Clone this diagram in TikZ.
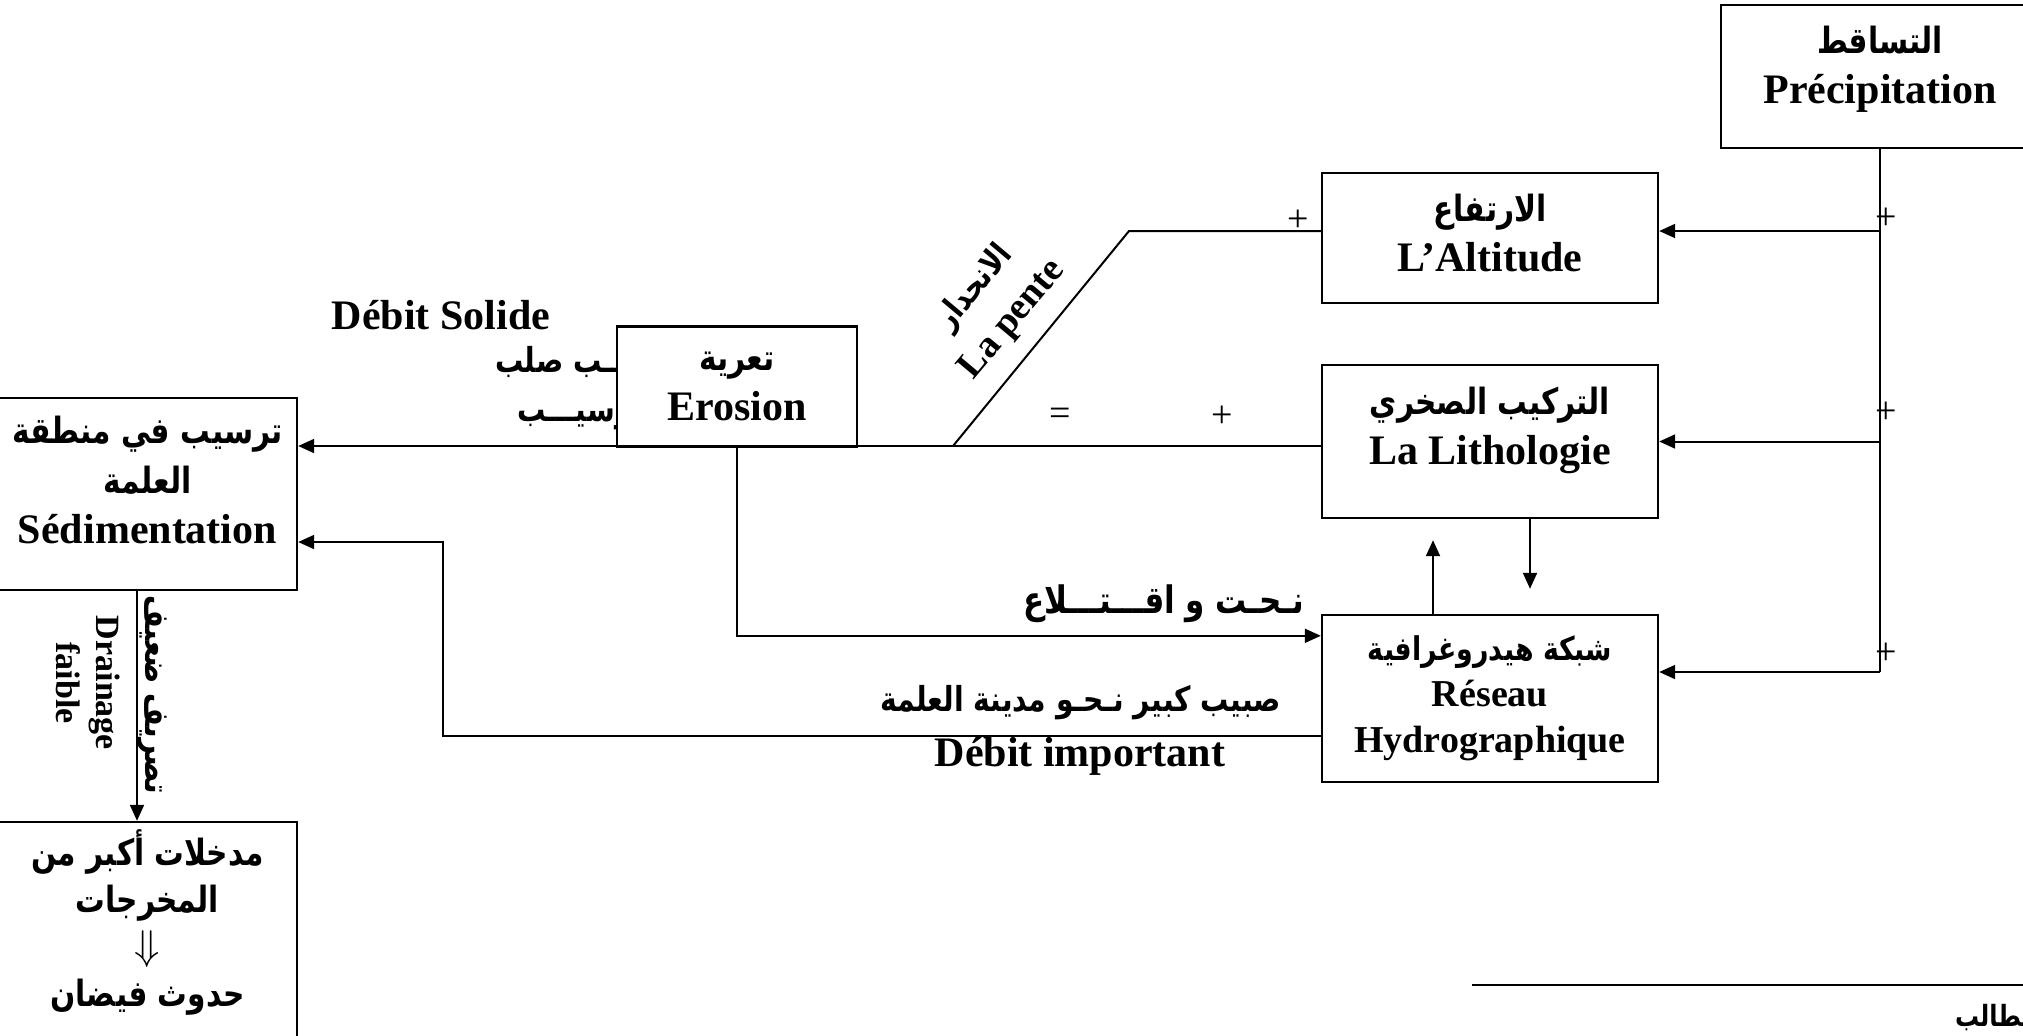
\documentclass[tikz,border=0pt]{standalone}
\usepackage{fontspec}
\setmainfont{Liberation Serif}
\newfontfamily\arfont[Script=Arabic,Scale=0.86,FakeStretch=0.82]{DejaVu Sans}
\TeXXeTstate=1
\newcommand{\artxt}[1]{{\arfont\beginR #1\endR}}
\usetikzlibrary{arrows.meta,positioning}

\begin{document}
\begin{tikzpicture}[x=0.5pt,y=-0.5pt,line width=1pt,
  box/.style={draw,fill=white,line width=1.2pt,align=center,inner sep=0pt,font=\bfseries\fontsize{21}{25}\selectfont},
  arr/.style={-{Triangle[length=8pt,width=7pt]}},
  lbl/.style={align=center,inner sep=0pt,font=\bfseries\fontsize{20}{25}\selectfont},
  sgn/.style={inner sep=0pt,font=\fontsize{19}{19}\selectfont}]
  \useasboundingbox (0,0) rectangle (2023,1035);

  % text under the erosion box
  \node[lbl,font=\bfseries\fontsize{21}{25}\selectfont] (dsol) at (441,315) {Débit Solide};
  \node[lbl,anchor=west] (sol1) at (494,362) {\artxt{صبيـــب صلب}};
  \node[lbl,anchor=west] (sol2) at (516,417) {\artxt{ترسيـــب}};

  % boxes
  \node[box,minimum width=159pt,minimum height=71.5pt,text depth=12pt] (prec) at (1880,76.5) {\artxt{التساقط}\\Précipitation};
  \node[box,minimum width=168pt,minimum height=65pt,text depth=5.5pt] (alt) at (1490,238) {\artxt{الارتفاع}\\L’Altitude};
  \node[box,minimum width=168pt,minimum height=76.5pt,text depth=16pt] (lith) at (1490,441.5) {\artxt{التركيب الصخري}\\La Lithologie};
  \node[box,minimum width=168pt,minimum height=83.5pt,font=\bfseries\fontsize{19}{23}\selectfont] (reseau) at (1490,698.5) {\artxt{شبكة هيدروغرافية}\\Réseau\\Hydrographique};
  \node[box,minimum width=120pt,minimum height=60pt] (eros) at (737,386.5) {\artxt{تعرية}\\Erosion};
  \node[box,minimum width=149.5pt,minimum height=96pt,text depth=14pt] (sed) at (147.5,494) {\artxt{ترسيب في منطقة}\\\artxt{العلمة}\\Sédimentation};
  \node[box,minimum width=149.5pt,minimum height=111.5pt,text depth=15pt,font=\bfseries\fontsize{21}{23.5}\selectfont] (out) at (147.5,933.5) {\artxt{مدخلات أكبر من}\\\artxt{المخرجات}\\$\Downarrow$\\\artxt{حدوث فيضان}};

  % precipitation feeds
  \coordinate (pj) at (1880,672);
  \draw (prec.south) -- (pj);
  \draw[arr] ([yshift=3.5pt]alt.east -| prec.south) -- ([yshift=3.5pt]alt.east);
  \draw[arr] (prec.south |- lith.east) -- (lith.east);
  \draw[arr] (pj) -- (pj -| reseau.east);
  \node[sgn] (pp1) at (1886,219) {+};
  \node[sgn] (pp2) at (1886,413) {+};
  \node[sgn] (pp3) at (1886,654) {+};

  % slope and main line
  \coordinate (knee) at (1129,231);
  \coordinate (foot) at (953,446);
  \draw ([yshift=3.5pt]alt.west) -- (knee) -- (foot);
  \draw[arr] ([yshift=-2.25pt]lith.west) -- ([yshift=-2.25pt]lith.west -| sed.east);
  \node[sgn] (pa) at (1298,221) {+};
  \node[sgn] (eq) at (1060,417) {=};
  \node[sgn] (pm) at (1222,417) {+};
  \node[lbl,rotate=50,font=\bfseries\fontsize{19}{25}\selectfont] (pente) at (994,304) {\artxt{الانحدار}\\La pente};

  % erosion to network
  \draw[arr] (eros.south) |- ([yshift=-11pt]reseau.north west);
  \node[lbl,anchor=east,font=\bfseries\fontsize{22}{25}\selectfont] (nht) at (1305,604) {\artxt{نـحـت و اقـــتـــلاع}};

  % network back to sedimentation
  \coordinate (rk) at (443,542);
  \draw[arr] ([yshift=23.5pt]reseau.south west) -| (rk) -- (rk -| sed.east);
  \node[lbl,anchor=east] (fort) at (1282,703) {\artxt{صبيب كبير نـحـو مدينة العلمة}};
  \node[lbl,font=\bfseries\fontsize{21}{25}\selectfont] (dimp) at (1080,756) {Débit important};

  % lithology <-> network
  \draw[arr] ([xshift=20pt]lith.south) -- ([xshift=20pt,yshift=12.5pt]reseau.north);
  \draw[arr] ([xshift=-28.5pt]reseau.north) -- ([xshift=-28.5pt,yshift=-10.5pt]lith.south);

  % drainage
  \draw[arr] ([xshift=-5.25pt]sed.south) -- ([xshift=-5.25pt]out.north);
  \node[lbl,rotate=-90,font=\bfseries\fontsize{17}{20}\selectfont] (drain) at (88,683) {Drainage\\faible};
  \node[lbl,rotate=-90] (tsrf) at (152,695) {\artxt{تصريف ضعيف}};

  % signature line
  \coordinate (sl) at (1472,985);
  \coordinate (sr) at (2030,985);
  \draw (sl) -- (sr);
  \node[inner sep=0pt,anchor=west,font=\bfseries\fontsize{17}{17}\selectfont] (stud) at (1954,1018) {\artxt{الطالب}};
\end{tikzpicture}
\end{document}
